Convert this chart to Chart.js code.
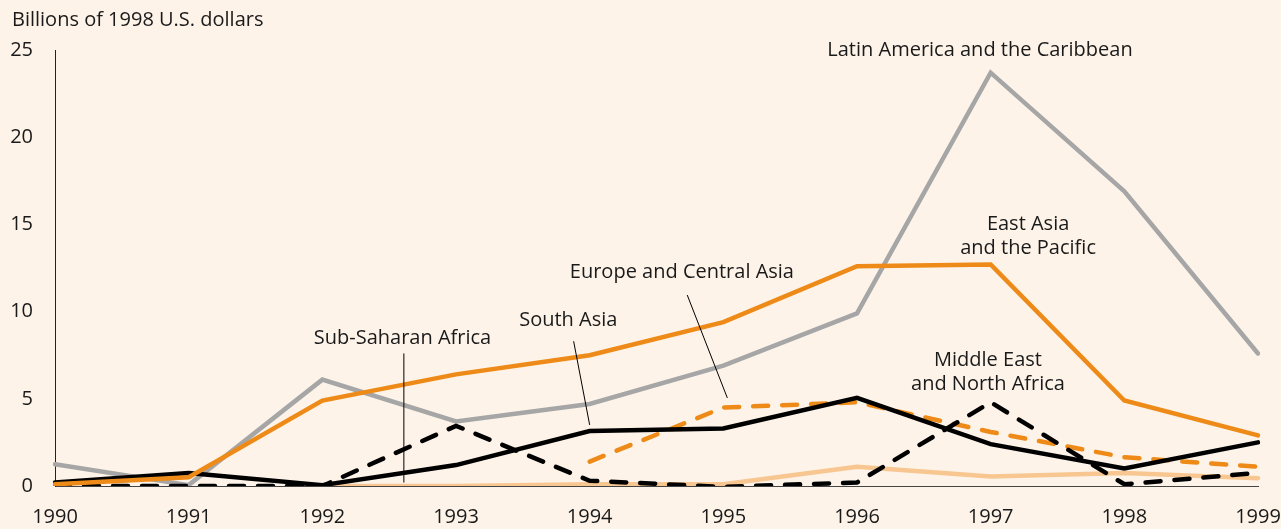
<!DOCTYPE html>
<html>
<head>
<meta charset="utf-8">
<script src="https://cdn.jsdelivr.net/npm/chart.js@4.4.1/dist/chart.umd.min.js"></script>
<style>
  html, body { margin: 0; padding: 0; background: #fdf3e9; }
  #wrap { width: 1281px; height: 529px; position: relative; }
</style>
</head>
<body>
<div id="wrap"><canvas id="c" width="1281" height="529"></canvas></div>
<script>
const years = ['1990','1991','1992','1993','1994','1995','1996','1997','1998','1999'];
const latinAmerica   = [1.25, 0.05, 6.1, 3.7, 4.7, 6.9, 9.9, 23.7, 16.9, 7.6];
const eastAsia       = [0.1, 0.5, 4.9, 6.4, 7.5, 9.4, 12.6, 12.7, 4.9, 2.9];
const southAsia      = [0.2, 0.75, 0.05, 1.2, 3.15, 3.3, 5.05, 2.4, 1.0, 2.5];
const middleEast     = [0.0, 0.0, 0.0, 3.45, 0.3, -0.05, 0.2, 4.8, 0.1, 0.75];
const europeCentral  = [null, null, null, null, 1.4, 4.5, 4.8, 3.1, 1.65, 1.1];
const subSaharan     = [null, null, 0.0, 0.0, 0.1, 0.1, 1.1, 0.55, 0.75, 0.45];
const yTicks = [0, 5, 10, 15, 20, 25];
const yTitle = 'Billions of 1998 U.S. dollars';

// annotation labels: text lines, x (year index), y (value) of first line
const labelLAC  = { lines: ['Latin America and the Caribbean'], x: 6.92, y: 25.0 };
const labelEAP  = { lines: ['East Asia', 'and the Pacific'], x: 7.28, y: 15.0 };
const labelECA  = { lines: ['Europe and Central Asia'], x: 4.69, y: 12.27 };
const labelSA   = { lines: ['South Asia'], x: 3.84, y: 9.52 };
const labelSSA  = { lines: ['Sub-Saharan Africa'], x: 2.6, y: 8.45 };
const labelMENA = { lines: ['Middle East', 'and North Africa'], x: 6.98, y: 7.22 };
const labels = [labelLAC, labelEAP, labelECA, labelSA, labelSSA, labelMENA];
// leader lines: x1, y1, x2, y2 in data units
const leaderSSA = [2.61, 7.6, 2.61, 0.2];
const leaderSA  = [3.88, 8.3, 4.0, 3.5];
const leaderECA = [4.73, 10.95, 5.03, 5.05];
const leaders = [leaderSSA, leaderSA, leaderECA];

const FONT = "'Open Sans', 'Noto Sans', sans-serif";
const FSIZE = 20;
const TXT = '#1a1a1a';
const ORANGE = '#ee8a17';
const GRAY = '#a6a6a6';
const PEACH = '#f8c690';

const annotationPlugin = {
  id: 'annot',
  afterDatasetsDraw(chart) {
    const ctx = chart.ctx;
    const xs = chart.scales.x, ys = chart.scales.y;
    ctx.save();
    ctx.strokeStyle = '#000';
    ctx.lineWidth = 1;
    leaders.forEach(l => {
      ctx.beginPath();
      ctx.moveTo(xs.getPixelForValue(l[0]), ys.getPixelForValue(l[1]));
      ctx.lineTo(xs.getPixelForValue(l[2]), ys.getPixelForValue(l[3]));
      ctx.stroke();
    });
    ctx.fillStyle = TXT;
    ctx.font = FSIZE + 'px ' + FONT;
    ctx.textAlign = 'center';
    ctx.textBaseline = 'middle';
    labels.forEach(lb => {
      const px = xs.getPixelForValue(lb.x);
      const py = ys.getPixelForValue(lb.y);
      lb.lines.forEach((t, i) => ctx.fillText(t, px, py + i * 24));
    });
    ctx.textAlign = 'left';
    ctx.fillText(yTitle, 12, 20);
    ctx.restore();
  }
};

function ds(label, data, color, dashed, order) {
  return {
    label, data, borderColor: color, backgroundColor: color,
    borderWidth: 4.5, pointRadius: 0, tension: 0, fill: false,
    borderDash: dashed ? [15, 14] : [], borderCapStyle: 'round',
    borderJoinStyle: 'miter', spanGaps: false, order
  };
}

new Chart(document.getElementById('c'), {
  type: 'line',
  data: {
    labels: years,
    datasets: [
      ds('Latin America and the Caribbean', latinAmerica, GRAY, false, 5),
      ds('Sub-Saharan Africa', subSaharan, PEACH, false, 4),
      ds('Europe and Central Asia', europeCentral, ORANGE, true, 3),
      ds('South Asia', southAsia, '#000', false, 2),
      ds('Middle East and North Africa', middleEast, '#000', true, 1),
      ds('East Asia and the Pacific', eastAsia, ORANGE, false, 0)
    ]
  },
  options: {
    responsive: false,
    animation: false,
    events: [],
    layout: { padding: { top: 50, right: 23, left: 0, bottom: 0 } },
    plugins: { legend: { display: false }, tooltip: { enabled: false } },
    scales: {
      x: {
        type: 'category',
        offset: false,
        grid: { display: false, drawTicks: false },
        border: { display: true, color: '#444', width: 1 },
        ticks: { color: TXT, font: { family: FONT, size: FSIZE }, padding: 19, maxRotation: 0, autoSkip: false },
        afterFit(s) { s.height = 43; s.paddingLeft = 0; s.paddingRight = 0; }
      },
      y: {
        min: 0, max: 25,
        afterBuildTicks(s) { s.ticks = yTicks.map(v => ({ value: v })); },
        grid: { display: false, drawTicks: false },
        border: { display: true, color: '#222', width: 1 },
        ticks: { color: TXT, font: { family: FONT, size: FSIZE }, padding: 22 },
        afterFit(s) { s.width = 55; s.paddingTop = 0; s.paddingBottom = 0; }
      }
    }
  },
  plugins: [annotationPlugin]
});
</script>
</body>
</html>
